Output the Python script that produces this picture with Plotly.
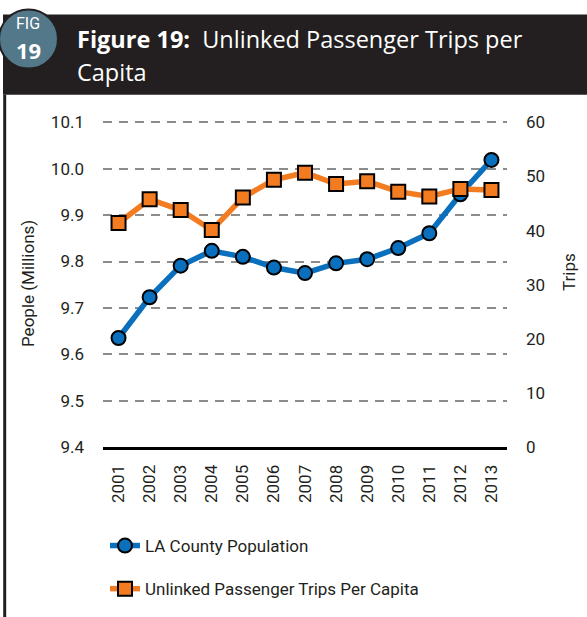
import plotly.graph_objects as go

years = [str(y) for y in range(2001, 2014)]
population = [9.635, 9.723, 9.791, 9.823, 9.810, 9.787, 9.775, 9.796, 9.805, 9.829, 9.861, 9.945, 10.019]
trips_per_capita = [41.4, 45.8, 43.8, 40.1, 46.1, 49.4, 50.7, 48.6, 49.1, 47.2, 46.3, 47.7, 47.5]

left_ticks = [9.4, 9.5, 9.6, 9.7, 9.8, 9.9, 10.0, 10.1]
right_ticks = [0, 10, 20, 30, 40, 50, 60]

W, H = 587, 617
# small headroom above the top tick so its gridline is drawn
Y1_RANGE = [9.4, 10.103]
Y2_RANGE = [0, 60 * 0.703 / 0.7]
L, R, B = 103, 507, 446.7
T = B - 324 * 0.703 / 0.7


def px(X):
    return (X - L) / (R - L)


def py(Y):
    return (B - Y) / (B - T)


DARK = "#231f20"
BLUE = "#0a70bd"
ORANGE = "#f47c20"
TICKFONT = dict(family="Roboto", size=17, color=DARK)

fig = go.Figure()
fig.add_trace(go.Scatter(
    x=years, y=population, name="LA County Population", yaxis="y",
    mode="lines+markers", legendgroup="a",
    line=dict(color=BLUE, width=5.5),
    marker=dict(symbol="circle", size=14, color=BLUE, line=dict(color="#000", width=2)),
))
fig.add_trace(go.Scatter(
    x=years, y=trips_per_capita, name="Unlinked Passenger Trips Per Capita", yaxis="y2",
    mode="lines+markers", legendgroup="b",
    line=dict(color=ORANGE, width=5.5),
    marker=dict(symbol="square", size=14, color=ORANGE, line=dict(color="#000", width=2)),
))

shapes = [
    dict(type="rect", xref="paper", yref="paper", x0=px(3), x1=px(592), y0=py(95), y1=py(15),
         fillcolor=DARK, line=dict(width=0), layer="above"),
    dict(type="line", xref="paper", yref="paper", x0=px(4.7), x1=px(4.7), y0=py(95), y1=py(625),
         line=dict(color=DARK, width=3)),
    dict(type="circle", xref="paper", yref="paper", x0=px(-1), x1=px(58), y0=py(69), y1=py(10),
         fillcolor="#52788a", line=dict(color=DARK, width=2), layer="above"),
]

annotations = [
    dict(text="FIG", x=px(28), y=py(34), xref="paper", yref="paper", showarrow=False, borderpad=0,
         xanchor="center", yanchor="bottom", font=dict(family="Roboto", size=16, color="white")),
    dict(text="<b>19</b>", x=px(28), y=py(34.5), xref="paper", yref="paper", showarrow=False,
         borderpad=0, xanchor="center", yanchor="top",
         font=dict(family="Open Sans", size=22, color="white")),
    dict(text="<b>Figure 19:</b>  Unlinked Passenger Trips per", x=px(75), y=py(39), xref="paper",
         yref="paper", showarrow=False, xanchor="left", yanchor="middle",
         font=dict(family="Open Sans", size=23.5, color="white")),
    dict(text="Capita", x=px(75), y=py(72), xref="paper",
         yref="paper", showarrow=False, xanchor="left", yanchor="middle",
         font=dict(family="Open Sans", size=23.5, color="white")),
    dict(text="People (Millions)", x=px(28), y=py(284), xref="paper", yref="paper",
         showarrow=False, textangle=-90, xanchor="center", yanchor="middle",
         font=dict(family="Roboto", size=17, color=DARK)),
    dict(text="Trips", x=px(569), y=py(272), xref="paper", yref="paper",
         showarrow=False, textangle=-90, xanchor="center", yanchor="middle",
         font=dict(family="Roboto", size=17, color=DARK)),
]

fig.update_layout(
    width=W, height=H,
    margin=dict(l=L, r=W - R, t=T, b=H - B, pad=0, autoexpand=False),
    paper_bgcolor="white", plot_bgcolor="white",
    showlegend=True,
    legend=dict(xref="container", yref="container", x=105 / W, y=1 - 528 / H,
                xanchor="left", yanchor="top", traceorder="grouped",
                tracegroupgap=18, font=dict(family="Roboto", size=17, color=DARK),
                bgcolor="rgba(0,0,0,0)"),
    xaxis=dict(type="category", range=[-0.5, 12.5], tickangle=-90, tickfont=TICKFONT,
               showline=True, linecolor="#000", linewidth=3, showgrid=False, ticks="",
               ticklabelstandoff=8, fixedrange=True, automargin=False),
    yaxis=dict(range=Y1_RANGE, tickvals=left_ticks, tickformat=".1f", tickfont=TICKFONT,
               showgrid=True, gridcolor="#8c8c8c", gridwidth=2, griddash="9px,7px",
               zeroline=False, showline=False, ticks="", ticklabelstandoff=18, automargin=False),
    yaxis2=dict(range=Y2_RANGE, tickvals=right_ticks, overlaying="y", side="right", tickfont=TICKFONT,
                showgrid=False, zeroline=False, showline=False, ticks="", ticklabelstandoff=18,
                automargin=False),
    shapes=shapes,
    annotations=annotations,
)

fig.write_html(
    "out.html",
    config={"displayModeBar": False},
    post_script="document.body.style.margin='0';document.body.style.overflow='hidden';",
)
